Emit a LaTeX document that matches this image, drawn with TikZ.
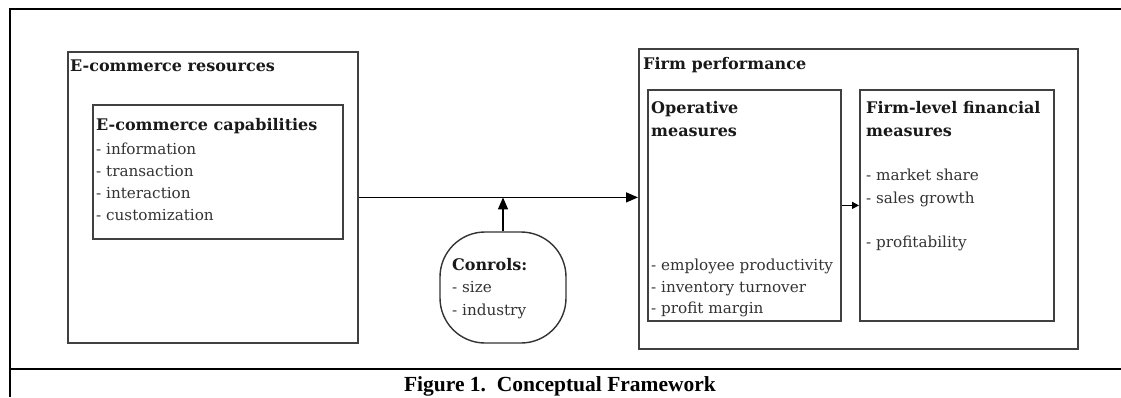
\documentclass[tikz,border=0pt]{standalone}
\usepackage{fontspec}
\setmainfont{DejaVu Serif}
\newfontfamily\capfont{Liberation Serif}
\usetikzlibrary{arrows.meta}
\tikzset{
  box/.style={draw=black!75, line width=1.8pt, anchor=north west, inner sep=0pt},
  frame/.style={draw=black, line width=2.4pt},
  hd/.style={anchor=base west, inner sep=0pt, font=\fontsize{16}{18}\selectfont\bfseries, text=black!90},
  it/.style={anchor=base west, inner sep=0pt, font=\fontsize{15.2}{18}\selectfont, text=black!80},
  conn/.style={draw=black, line width=1.4pt},
  bigtip/.style={-{Triangle[length=12pt,width=10pt]}},
  smalltip/.style={-{Triangle[length=7pt,width=7pt]}}
}
\begin{document}
\begin{tikzpicture}[x=1pt,y=-1pt]
\useasboundingbox (0,0) rectangle (1121,397);
% outer frame
\coordinate (fbl) at (10,397);
\coordinate (ftl) at (10,9);
\coordinate (ftr) at (1121,9);
\coordinate (fml) at (10,369);
\coordinate (fmr) at (1121,369);
\draw[frame] (fbl) -- (ftl) -- (ftr);
\draw[frame] (fml) -- (fmr);
% boxes
\node[box, minimum width=290pt, minimum height=291pt] (res) at (67,51) {};
\node[box, minimum width=250pt, minimum height=134pt] (cap) at (92,104) {};
\node[box, minimum width=439pt, minimum height=300pt] (perf) at (638,48) {};
\node[box, minimum width=193pt, minimum height=231pt] (op) at (647,89) {};
\node[box, minimum width=194pt, minimum height=231pt] (fin) at (859,89) {};
\node[draw=black!80, line width=1.4pt, rounded corners=45pt, minimum width=126pt, minimum height=111pt, inner sep=0pt] (ctrl) at (503,287.5) {};
% texts
\node[hd] (tres) at (70,71) {E-commerce resources};
\node[hd] (tcap) at (96,130) {E-commerce capabilities};
\node[it] (c1) at (96,154) {- information};
\node[it] (c2) at (96,176) {- transaction};
\node[it] (c3) at (96,198) {- interaction};
\node[it] (c4) at (96,220) {- customization};
\node[hd] (tctrl) at (452,270) {Conrols:};
\node[it] (k1) at (452,292) {- size};
\node[it] (k2) at (452,315) {- industry};
\node[hd] (tperf) at (643,69) {Firm performance};
\node[hd] (top1) at (651,113) {Operative};
\node[hd] (top2) at (651,136) {measures};
\node[it] (o1) at (651,270) {- employee productivity};
\node[it] (o2) at (651,292) {- inventory turnover};
\node[it] (o3) at (651,313) {- profit margin};
\node[hd] (tfin1) at (866,113) {Firm-level financial};
\node[hd] (tfin2) at (866,136) {measures};
\node[it] (f1) at (866,180) {- market share};
\node[it] (f2) at (866,203) {- sales growth};
\node[it] (f3) at (866,247) {- profitability};
\node[anchor=base, inner sep=0pt, font=\capfont\fontsize{21.5}{24}\selectfont\bfseries] (capt) at (560,391) {Figure 1.\ \ Conceptual Framework};
% connectors
\draw[conn, bigtip] (res.east) -- (res.east -| perf.west);
\draw[conn, bigtip] (ctrl.north) -- (ctrl.north |- res.east);
\draw[conn, smalltip] (op.east) -- (fin.west);
\end{tikzpicture}
\end{document}
